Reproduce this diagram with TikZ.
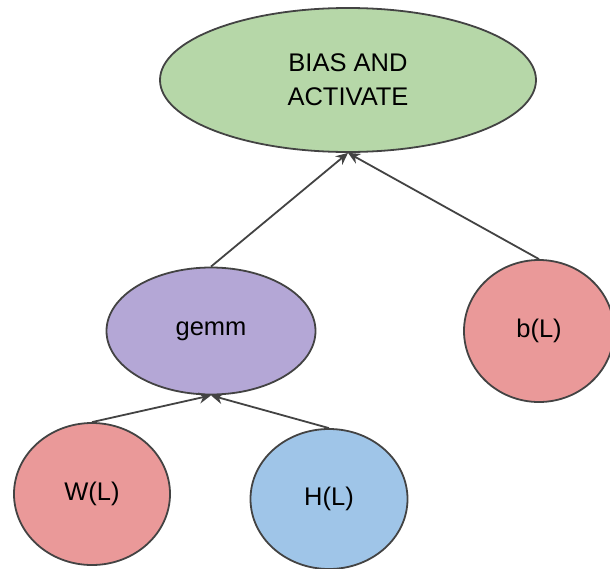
\documentclass[tikz,border=0pt]{standalone}
\usepackage{fontspec}
\setmainfont{Liberation Sans}
\usetikzlibrary{shapes.geometric,arrows.meta}
\definecolor{greenfill}{HTML}{B6D7A8}
\definecolor{purplefill}{HTML}{B4A7D6}
\definecolor{redfill}{HTML}{EA9999}
\definecolor{bluefill}{HTML}{9FC5E8}
\definecolor{edgegray}{HTML}{434343}
\tikzset{
  opnode/.style={ellipse, draw=edgegray, line width=1.8pt, inner sep=0pt,
    font=\fontsize{25.5}{34}\selectfont, align=center},
  link/.style={draw=edgegray, line width=1.8pt,
    -{Stealth[length=12pt,width=11pt]}}
}
\begin{document}
\begin{tikzpicture}[x=1pt,y=-1pt]
\useasboundingbox (0,0) rectangle (610,568);
\clip (0,0) rectangle (610,568);
\node[opnode, fill=greenfill, minimum width=376pt, minimum height=144pt] (bias) at (348,80) {BIAS AND\\ACTIVATE};
\node[opnode, fill=purplefill, minimum width=209pt, minimum height=127pt] (gemm) at (211,331) {gemm};
\node[opnode, fill=redfill, minimum width=150pt, minimum height=142pt] (b) at (539,331) {b(L)};
\node[opnode, fill=redfill, minimum width=156pt, minimum height=142pt] (w) at (92,494) {W(L)};
\node[opnode, fill=bluefill, minimum width=157pt, minimum height=140pt] (h) at (329,499) {H(L)};
\draw[link] (gemm.north) -- (bias.south);
\draw[link] (b.north) -- (bias.south);
\draw[link] (w.north) -- (gemm.south);
\draw[link] (h.north) -- (gemm.south);
\end{tikzpicture}
\end{document}
